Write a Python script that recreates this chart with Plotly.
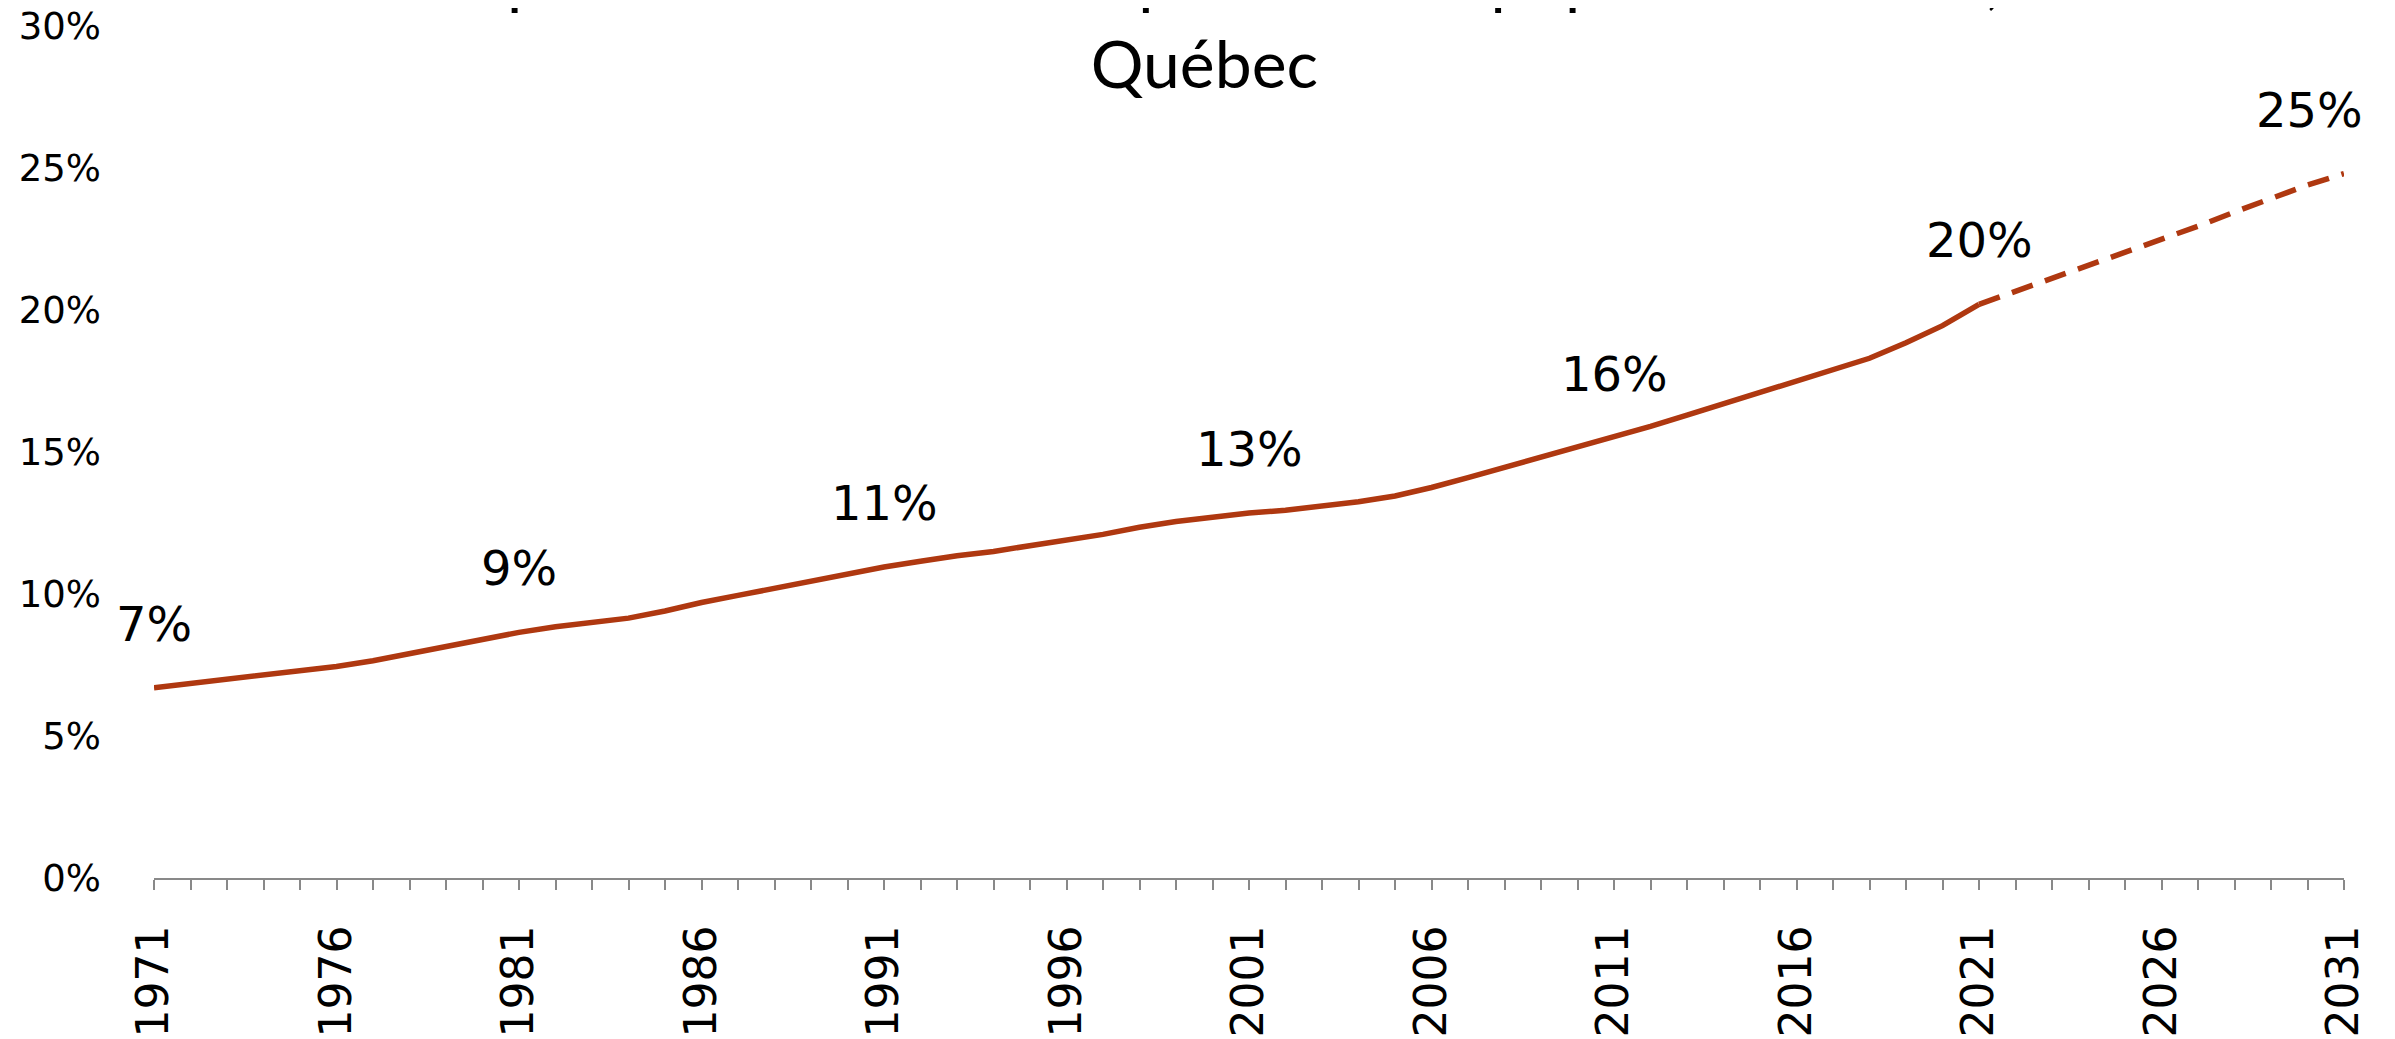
import plotly.graph_objects as go

# Observed share of people aged 65+ (%), Québec
years_obs = list(range(1971, 2022))
pct_obs = [6.7, 6.85, 7.0, 7.15, 7.3, 7.45, 7.65, 7.9, 8.15, 8.4,
           8.65, 8.85, 9.0, 9.15, 9.4, 9.7, 9.95, 10.2, 10.45, 10.7,
           10.95, 11.15, 11.35, 11.5, 11.7, 11.9, 12.1, 12.35, 12.55, 12.7,
           12.85, 12.95, 13.1, 13.25, 13.45, 13.75, 14.1, 14.45, 14.8, 15.15,
           15.5, 15.9, 16.3, 16.7, 17.1, 17.5, 17.9, 18.3, 18.85, 19.45,
           20.2]

# Projection (%)
years_proj = list(range(2021, 2032))
pct_proj = [20.2, 20.65, 21.1, 21.55, 22.0, 22.5, 22.95, 23.45, 23.95, 24.4, 24.8]

# Data labels
label_years = [1971, 1981, 1991, 2001, 2011, 2021, 2031]
label_texts = ["7%", "9%", "11%", "13%", "16%", "20%", "25%"]

major_ticks = list(range(1971, 2032, 5))
y_ticks = [0, 5, 10, 15, 20, 25, 30]
y_tick_labels = ["0%", "5%", "10%", "15%", "20%", "25%", "30%"]

TITLE = "Proportion des 65 ans et plus dans la population totale,<br>Québec"

LINE = "#AF3810"
AXIS = "#898989"

fig = go.Figure()
fig.add_trace(go.Scatter(x=years_obs, y=pct_obs, mode="lines",
                         line=dict(color=LINE, width=5.5), showlegend=False,
                         hoverinfo="skip"))
fig.add_trace(go.Scatter(x=years_proj, y=pct_proj, mode="lines",
                         line=dict(color=LINE, width=5.5, dash="22px,13px"),
                         showlegend=False, hoverinfo="skip"))

lookup = dict(zip(years_obs, pct_obs))
lookup.update(dict(zip(years_proj, pct_proj)))
for i, (yr, txt) in enumerate(zip(label_years, label_texts)):
    fig.add_annotation(x=yr, y=lookup[yr], text=txt, showarrow=False,
                       yshift=64, xshift=(-35 if i == len(label_years) - 1 else 0),
                       font=dict(family="DejaVu Sans", size=48, color="#000000"))

# Chart title (first line runs above the visible page, as in the original)
fig.add_annotation(text=TITLE, xref="paper", yref="paper", x=0.4795, y=0.908,
                   xanchor="center", yanchor="bottom", showarrow=False,
                   font=dict(family="Lato", size=66, color="#000000"))

fig.update_layout(
    width=2387, height=1031,
    margin=dict(l=146, r=51, t=18, b=161, autoexpand=False),
    paper_bgcolor="white", plot_bgcolor="white",
    xaxis=dict(range=[1971, 2031], tickvals=major_ticks,
               ticktext=[str(v) for v in major_ticks], automargin=False,
               tickangle=-90, ticks="outside", ticklen=10, tickwidth=1.5,
               tickcolor=AXIS, showline=True, linecolor=AXIS, linewidth=2,
               showgrid=False, zeroline=False, ticklabelstandoff=18,
               ticklabeloverflow="allow",
               tickfont=dict(family="DejaVu Sans", size=44, color="#000000"),
               minor=dict(dtick=1, tick0=1971, ticks="outside", ticklen=10,
                          tickwidth=1.5, tickcolor=AXIS, showgrid=False)),
    yaxis=dict(range=[0, 30], tickvals=y_ticks, ticktext=y_tick_labels,
               automargin=False, ticklabeloverflow="allow",
               showgrid=False, zeroline=False, showline=False, ticks="",
               ticklabelstandoff=52,
               tickfont=dict(family="DejaVu Sans", size=37, color="#000000")),
)

fig.write_html("out.html")
